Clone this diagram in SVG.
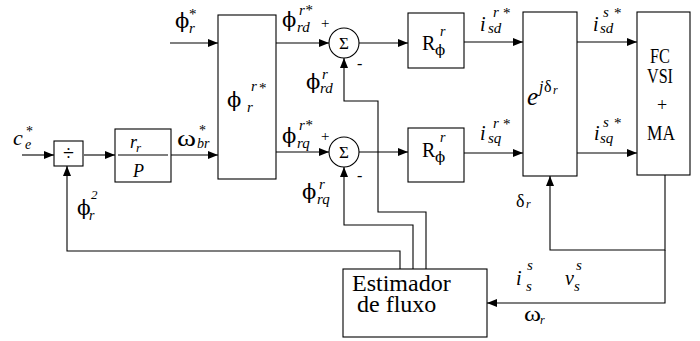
<svg xmlns="http://www.w3.org/2000/svg" width="700" height="341" viewBox="0 0 700 341">
<defs>
<marker id="ah" markerWidth="10" markerHeight="8" refX="10" refY="4" orient="auto" markerUnits="userSpaceOnUse">
<path d="M0,0 L10,4 L0,8 Z" fill="#000"/>
</marker>
<style>
.box{fill:#fff;stroke:#000;stroke-width:1.1}
.ln{fill:none;stroke:#000;stroke-width:1.1}
.ar{fill:none;stroke:#000;stroke-width:1.1;marker-end:url(#ah)}
text{font-family:"Liberation Serif","DejaVu Serif",serif;fill:#000}
.it{font-style:italic}
.g{font-family:"DejaVu Serif","Liberation Serif",serif}
.m{text-anchor:middle}
</style>
</defs>
<rect width="700" height="341" fill="#fff"/>

<g id="connectors">
<path class="ar" d="M22,155 H54"/>
<path class="ar" d="M84,155 H115"/>
<path class="ar" d="M171,155 H218"/>
<path class="ar" d="M170,43 H218"/>
<path class="ar" d="M276,43 H329"/>
<path class="ar" d="M276,152 H329"/>
<path class="ar" d="M359,43 H408"/>
<path class="ar" d="M359,152 H408"/>
<path class="ar" d="M464,42 H523"/>
<path class="ar" d="M464,153 H523"/>
<path class="ar" d="M577,42 H637"/>
<path class="ar" d="M577,153 H637"/>
<path class="ar" d="M665,175 V250 H550 V176"/>
<path class="ar" d="M665,250 V303 H487"/>
<path class="ar" d="M400,269 V251 H67 V166"/>
<path class="ar" d="M413,269 V225 H344 V167"/>
<path class="ar" d="M426,269 V212 H378 V101 H344 V58"/>
</g>

<g id="divider">
<rect class="box" x="54" y="141" width="29" height="25"/>
<text class="m" x="68.5" y="160" font-size="20">÷</text>
</g>

<g id="gain">
<rect class="box" x="115" y="129" width="56" height="53"/>
<line class="ln" x1="118" y1="155" x2="168" y2="155" stroke-width="0.8"/>
<text class="it" x="130" y="148" font-size="18">r</text>
<text class="it" x="136" y="152" font-size="13">r</text>
<text class="it" x="133" y="177" font-size="18">P</text>
</g>

<g id="flux_ref">
<rect class="box" x="218" y="15" width="58" height="164"/>
<text class="g" x="227" y="107" font-size="21">ϕ</text>
<text class="it" x="251" y="91" font-size="15">r</text>
<text x="259" y="93" font-size="15">*</text>
<text class="it" x="247" y="112" font-size="15">r</text>
</g>

<g id="sum_d">
<circle class="box" cx="344" cy="43" r="15"/>
<text class="m" x="344" y="49" font-size="17">Σ</text>
<text x="321" y="28" font-size="15">+</text>
<text x="357" y="69" font-size="16">-</text>
</g>

<g id="sum_q">
<circle class="box" cx="344" cy="152" r="15"/>
<text class="m" x="344" y="158" font-size="17">Σ</text>
<text x="321" y="141" font-size="15">+</text>
<text x="357" y="181" font-size="16">-</text>
</g>

<g id="reg_d">
<rect class="box" x="408" y="13" width="56" height="55"/>
<text x="422" y="50" font-size="20">R</text>
<text class="it" x="440" y="36" font-size="14">r</text>
<text class="g" x="435" y="55" font-size="15">ϕ</text>
</g>

<g id="reg_q">
<rect class="box" x="408" y="128" width="56" height="54"/>
<text x="422" y="157" font-size="20">R</text>
<text class="it" x="440" y="142" font-size="14">r</text>
<text class="g" x="435" y="162" font-size="15">ϕ</text>
</g>

<g id="rotation">
<rect class="box" x="523" y="12" width="54" height="164"/>
<text class="it" x="527" y="105" font-size="25">e</text>
<text class="it" x="539" y="92" font-size="16">j</text>
<text x="544" y="92" font-size="16">δ</text>
<text class="it" x="553" y="94" font-size="12">r</text>
</g>

<g id="inverter">
<rect class="box" x="637" y="12" width="53" height="163"/>
<text x="650" y="63" font-size="22" textLength="20" lengthAdjust="spacingAndGlyphs">FC</text>
<text x="647" y="83" font-size="22" textLength="26" lengthAdjust="spacingAndGlyphs">VSI</text>
<text class="m" x="662" y="111" font-size="18">+</text>
<text x="647" y="140" font-size="22" textLength="28" lengthAdjust="spacingAndGlyphs">MA</text>
</g>

<g id="estimator">
<rect class="box" x="343" y="269" width="144" height="68"/>
<text x="352" y="291" font-size="24">Estimador</text>
<text x="357" y="312" font-size="24">de fluxo</text>
</g>

<g id="labels">
<text class="it" x="13" y="145" font-size="22">c</text>
<text class="it" x="25" y="149" font-size="14">e</text>
<text x="26" y="136" font-size="14">*</text>

<text class="g" x="175" y="28" font-size="21">ϕ</text>
<text class="it" x="189" y="33" font-size="15">r</text>
<text x="189" y="19" font-size="15">*</text>

<text x="177" y="146" font-size="24" textLength="19" lengthAdjust="spacingAndGlyphs">ω</text>
<text class="it" x="197" y="148" font-size="14">br</text>
<text x="199" y="135" font-size="14">*</text>

<text class="g" x="77" y="215" font-size="20">ϕ</text>
<text class="it" x="91" y="199" font-size="13">2</text>
<text class="it" x="89" y="220" font-size="14">r</text>

<text class="g" x="282" y="27" font-size="21">ϕ</text>
<text class="it" x="299" y="15" font-size="15">r*</text>
<text class="it" x="297" y="32" font-size="15">rd</text>

<text class="g" x="282" y="143" font-size="21">ϕ</text>
<text class="it" x="299" y="130" font-size="15">r*</text>
<text class="it" x="297" y="148" font-size="15">rq</text>

<text class="g" x="306" y="89" font-size="21">ϕ</text>
<text class="it" x="322" y="79" font-size="15">r</text>
<text class="it" x="320" y="93" font-size="15">rd</text>

<text class="g" x="302" y="199" font-size="21">ϕ</text>
<text class="it" x="319" y="189" font-size="15">r</text>
<text class="it" x="317" y="204" font-size="15">rq</text>

<text class="it" x="480" y="31" font-size="20">i</text>
<text class="it" x="488" y="33" font-size="15">sd</text>
<text class="it" x="493" y="17" font-size="15">r</text>
<text x="503" y="18" font-size="15">*</text>

<text class="it" x="480" y="140" font-size="20">i</text>
<text class="it" x="488" y="143" font-size="15">sq</text>
<text class="it" x="493" y="128" font-size="15">r</text>
<text x="503" y="129" font-size="15">*</text>

<text class="it" x="593" y="31" font-size="20">i</text>
<text class="it" x="600" y="33" font-size="15">sd</text>
<text class="it" x="603" y="17" font-size="15">s</text>
<text x="614" y="18" font-size="15">*</text>

<text class="it" x="594" y="140" font-size="20">i</text>
<text class="it" x="600" y="143" font-size="15">sq</text>
<text class="it" x="603" y="127" font-size="15">s</text>
<text x="614" y="128" font-size="15">*</text>

<text x="516" y="207" font-size="18">δ</text>
<text class="it" x="526" y="208" font-size="12">r</text>

<text class="it" x="516" y="285" font-size="20">i</text>
<text class="it" x="527" y="270" font-size="15">s</text>
<text class="it" x="526" y="291" font-size="15">s</text>
<text class="it" x="565" y="285" font-size="20">v</text>
<text class="it" x="576" y="270" font-size="15">s</text>
<text class="it" x="574" y="291" font-size="15">s</text>

<text x="524" y="321" font-size="22" textLength="17" lengthAdjust="spacingAndGlyphs">ω</text>
<text class="it" x="540" y="324" font-size="12">r</text>
</g>
</svg>
